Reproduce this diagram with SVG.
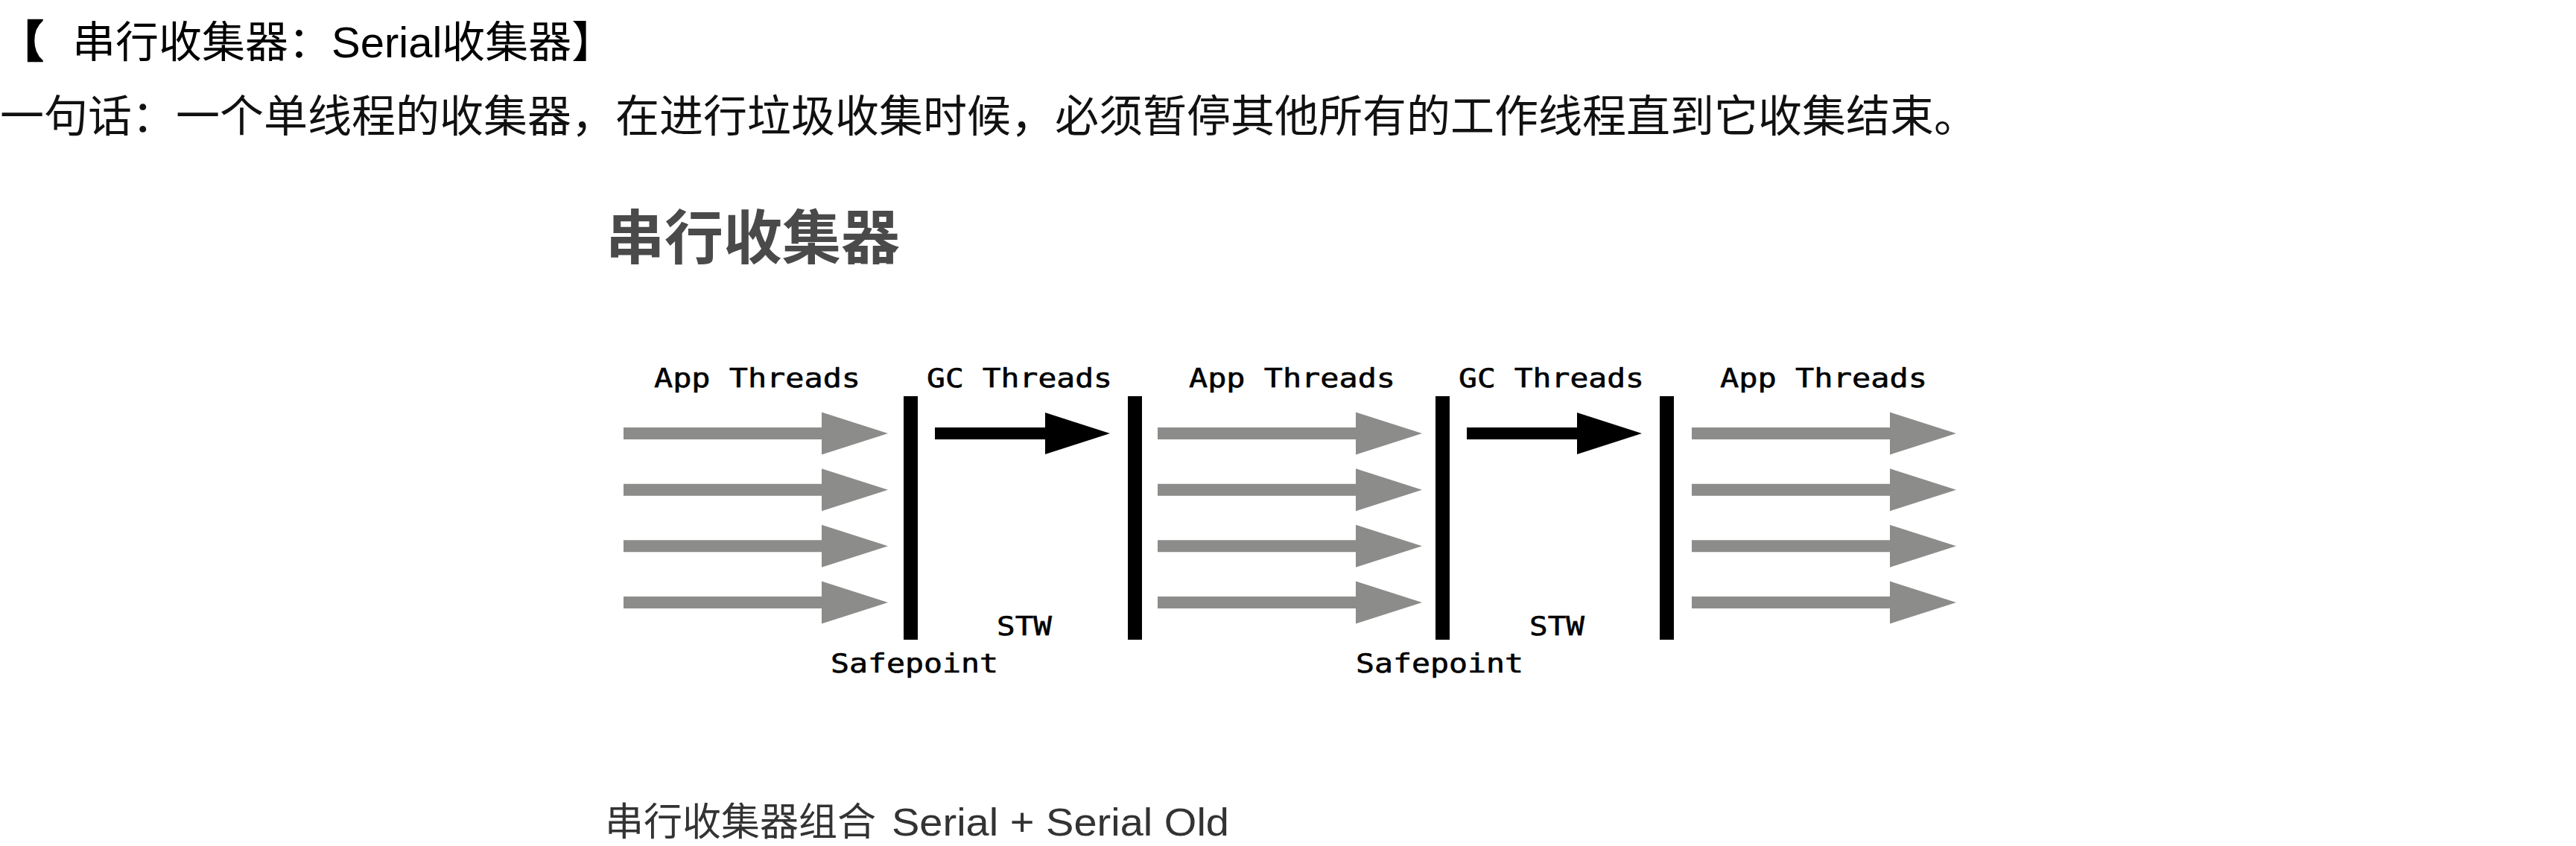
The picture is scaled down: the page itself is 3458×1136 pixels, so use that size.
<svg xmlns="http://www.w3.org/2000/svg" width="3458" height="1136" viewBox="0 0 3458 1136">
<style>
.cjk{font-family:"Liberation Sans","Noto Sans CJK SC",sans-serif;}
.t1{font-size:58px;fill:#000;}
.br{font-family:"Noto Sans CJK SC",sans-serif;font-weight:900;stroke:#000;stroke-width:2.5px;}
.t2{font-size:59px;fill:#111;}
.hd{font-family:"Noto Sans CJK SC",sans-serif;font-size:79px;font-weight:bold;fill:#4a4a4a;}
.ft{font-size:52px;fill:#333;}
.mono{font-family:"DejaVu Sans Mono","Liberation Mono",monospace;font-size:36px;fill:#000;stroke:#000;stroke-width:0.6px;}
.bar{fill:#000;}
.ga{fill:#8c8d8b;}
.ba{fill:#000;}
</style>
<defs>
<path id="grayArrow" class="ga" d="M0,-8 H266 V-28.5 L355,0 L266,28.5 V8 H0 Z"/>
<path id="blackArrow" class="ba" d="M0,-8 H148 V-28 L235,0 L148,28 V8 H0 Z"/>
</defs>
<rect width="3458" height="1136" fill="#fff"/>

<g id="title">
<text class="cjk t1" y="77"><tspan x="0" class="br">【</tspan><tspan x="97">串行收集器：Serial收集器】</tspan></text>
</g>
<g id="summary">
<text class="cjk t2" x="0" y="177">一句话：一个单线程的收集器，在进行垃圾收集时候，必须暂停其他所有的工作线程直到它收集结束。</text>
</g>
<g id="heading">
<text class="hd" x="813" y="348">串行收集器</text>
</g>

<g id="labels">
<text class="mono" x="878" y="520" textLength="277" lengthAdjust="spacingAndGlyphs">App Threads</text>
<text class="mono" x="1244" y="520" textLength="249" lengthAdjust="spacingAndGlyphs">GC Threads</text>
<text class="mono" x="1596" y="520" textLength="277" lengthAdjust="spacingAndGlyphs">App Threads</text>
<text class="mono" x="1958" y="520" textLength="249" lengthAdjust="spacingAndGlyphs">GC Threads</text>
<text class="mono" x="2309" y="520" textLength="278" lengthAdjust="spacingAndGlyphs">App Threads</text>
<text class="mono" x="1338" y="853" textLength="74" lengthAdjust="spacingAndGlyphs">STW</text>
<text class="mono" x="2053" y="853" textLength="74" lengthAdjust="spacingAndGlyphs">STW</text>
<text class="mono" x="1115" y="903" textLength="225" lengthAdjust="spacingAndGlyphs">Safepoint</text>
<text class="mono" x="1820" y="903" textLength="225" lengthAdjust="spacingAndGlyphs">Safepoint</text>
</g>

<g id="safepoints">
<rect class="bar" x="1213" y="532" width="19" height="327"/>
<rect class="bar" x="1514" y="532" width="19" height="327"/>
<rect class="bar" x="1927" y="532" width="19" height="327"/>
<rect class="bar" x="2228" y="532" width="19" height="327"/>
</g>

<g id="connectors">
<use href="#grayArrow" x="837" y="582"/>
<use href="#grayArrow" x="837" y="657.7"/>
<use href="#grayArrow" x="837" y="733.3"/>
<use href="#grayArrow" x="837" y="809"/>
<use href="#blackArrow" x="1255" y="582"/>
<use href="#grayArrow" x="1554" y="582"/>
<use href="#grayArrow" x="1554" y="657.7"/>
<use href="#grayArrow" x="1554" y="733.3"/>
<use href="#grayArrow" x="1554" y="809"/>
<use href="#blackArrow" x="1969" y="582"/>
<use href="#grayArrow" x="2271" y="582"/>
<use href="#grayArrow" x="2271" y="657.7"/>
<use href="#grayArrow" x="2271" y="733.3"/>
<use href="#grayArrow" x="2271" y="809"/>
</g>

<g id="footer">
<text class="cjk ft" y="1122"><tspan x="812">串行收集器组合</tspan><tspan x="1197" textLength="453" lengthAdjust="spacingAndGlyphs">Serial + Serial Old</tspan></text>
</g>
</svg>
